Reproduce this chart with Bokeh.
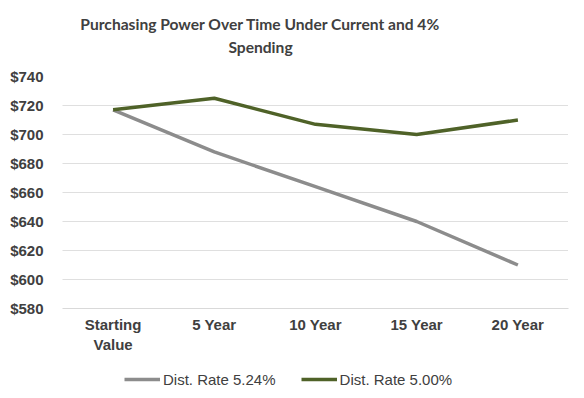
from bokeh.plotting import figure
from bokeh.layouts import column
from bokeh.models import Legend, LegendItem, NumeralTickFormatter, FixedTicker, Range1d, Label
from bokeh.embed import file_html
from bokeh.resources import INLINE

categories = ["Starting\nValue", "5 Year", "10 Year", "15 Year", "20 Year"]
rate_524 = [717, 688, 664, 640, 610]
rate_500 = [717, 725, 707, 700, 710]
y_ticks = [580, 600, 620, 640, 660, 680, 700, 720, 740]
series_names = ["Dist. Rate 5.24%", "Dist. Rate 5.00%"]
series_colors = ["#8c8c8c", "#4f6228"]
title_lines = ["Purchasing Power Over Time Under Current and 4%", "Spending"]

W = 584
FL, FR = 62, 568  # frame edges shared by the column's children

def strip(h):
    f = figure(width=W, height=h, x_range=Range1d(FL, FR), y_range=Range1d(0, h),
               output_backend="svg", toolbar_location=None,
               min_border_left=FL, min_border_right=W - FR, min_border_top=0, min_border_bottom=0)
    f.axis.visible = False
    f.grid.visible = False
    f.outline_line_color = None
    f.background_fill_color = None
    f.border_fill_color = "white"
    return f

# title strip
top = strip(66)
for txt, yy in zip(title_lines, [43, 20]):
    top.add_layout(Label(x=260, y=yy, text=txt, text_align="center", text_baseline="middle",
                         text_font="Lato", text_font_size="15.6px", text_font_style="bold",
                         text_color="#404040"))

# main chart
p = figure(width=W, height=289, x_range=categories, y_range=Range1d(580, 740),
           output_backend="svg", toolbar_location=None,
           min_border_left=FL, min_border_right=W - FR, min_border_top=10, min_border_bottom=47)
p.outline_line_color = None
p.background_fill_color = None
p.border_fill_color = "white"

for vals, col in zip([rate_524, rate_500], series_colors):
    p.line(categories, vals, line_color=col, line_width=3.5)

p.yaxis.ticker = FixedTicker(ticks=y_ticks)
p.yaxis.formatter = NumeralTickFormatter(format="$0")
p.yaxis.axis_line_color = None
p.yaxis.major_tick_line_color = None
p.yaxis.minor_tick_line_color = None
p.yaxis.major_label_text_font = "Liberation Sans"
p.yaxis.major_label_text_font_style = "bold"
p.yaxis.major_label_text_font_size = "15px"
p.yaxis.major_label_text_color = "#404040"
p.yaxis.major_label_standoff = 13

p.xaxis.axis_line_color = "#d9d9d9"
p.xaxis.axis_line_width = 1
p.xaxis.major_tick_line_color = None
p.xaxis.minor_tick_line_color = None
p.xaxis.major_label_text_font = "Liberation Sans"
p.xaxis.major_label_text_font_style = "bold"
p.xaxis.major_label_text_font_size = "15px"
p.xaxis.major_label_text_line_height = 1.2
p.xaxis.major_label_text_color = "#404040"
p.xaxis.major_label_standoff = 1

p.xgrid.grid_line_color = None
p.ygrid.grid_line_color = "#bfbfbf"
p.ygrid.grid_line_dash = "1 1"
p.ygrid.grid_line_width = 1

# legend strip
lg = strip(43)
items = []
for name, col in zip(series_names, series_colors):
    r = lg.line([0, 1], [-10, -5], line_color=col, line_width=3.5)
    items.append(LegendItem(label=name, renderers=[r]))
legend = Legend(items=items, orientation="horizontal", location=(62, 9),
                glyph_width=36, label_standoff=3, spacing=25,
                border_line_color=None, background_fill_alpha=0,
                label_text_font="Liberation Sans", label_text_font_size="15px",
                label_text_color="#404040", margin=0, padding=4)
lg.add_layout(legend, "center")

layout = column(top, p, lg, spacing=0)
open("out.html", "w").write(file_html(layout, INLINE))
